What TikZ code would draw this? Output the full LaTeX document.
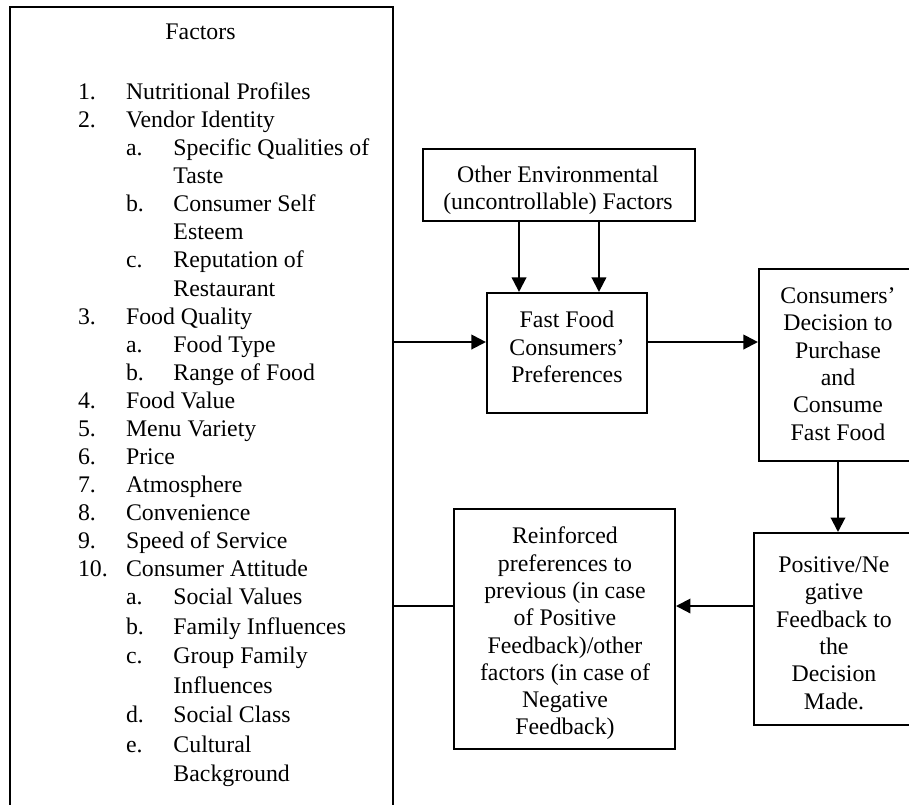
\documentclass[tikz,border=0pt]{standalone}
\usepackage{fontspec}
\setmainfont{Liberation Serif}
\usetikzlibrary{arrows.meta}
\newcommand\factoritem[2]{#1 & \multicolumn{2}{@{}l@{}}{#2}\\}
\newcommand\factorsub[2]{& #1 & #2\\}
\newcommand\factorsubwide[2]{& #1 & #2\\[0.7pt]}

\begin{document}
\begin{tikzpicture}[x=0.483pt,y=-0.483pt,line width=1pt,
  every node/.style={font=\fontsize{11.5}{13.8}\selectfont},
  box/.style={draw,inner sep=0pt},
  boxtext/.style={align=center,inner sep=0pt,font=\fontsize{11.5}{13.2}\selectfont},
  arrow/.style={-{Triangle[length=7pt,width=7pt]}}]
  \useasboundingbox (0,0) rectangle (909,805);

  % left column of factors
  \node[box,anchor=north west,minimum width=185pt,minimum height=400pt] (factors) at (9,6) {};
  \node[anchor=base] (title) at (200.5,40) {Factors};
  \node[anchor=north west,inner sep=0pt,font=\fontsize{11.5}{13.55}\selectfont] (list) at (77,79) {%
    \begin{tabular}{@{}p{23.2pt}@{}p{22.9pt}@{}l@{}}
      \factoritem{1.}{Nutritional Profiles}
      \factoritem{2.}{Vendor Identity}
      \factorsub{a.}{Specific Qualities of}
      \factorsub{}{Taste}
      \factorsub{b.}{Consumer Self}
      \factorsub{}{Esteem}
      \factorsub{c.}{Reputation of}
      \factorsub{}{Restaurant}
      \factoritem{3.}{Food Quality}
      \factorsub{a.}{Food Type}
      \factorsub{b.}{Range of Food}
      \factoritem{4.}{Food Value}
      \factoritem{5.}{Menu Variety}
      \factoritem{6.}{Price}
      \factoritem{7.}{Atmosphere}
      \factoritem{8.}{Convenience}
      \factoritem{9.}{Speed of Service}
      \factoritem{10.}{Consumer Attitude}
      \factorsubwide{a.}{Social Values}
      \factorsubwide{b.}{Family Influences}
      \factorsubwide{c.}{Group Family}
      \factorsubwide{}{Influences}
      \factorsubwide{d.}{Social Class}
      \factorsubwide{e.}{Cultural}
      \factorsubwide{}{Background}
    \end{tabular}};

  % boxes on the right
  \node[box,minimum width=131.4pt,minimum height=34.8pt] (env) at (559,185) {};
  \node[boxtext] (envtext) at (558,190) {Other Environmental\\(uncontrollable) Factors};

  \node[box,minimum width=77.3pt,minimum height=58pt] (pref) at (567,353) {};
  \node[boxtext] (preftext) at (567,347) {Fast Food\\Consumers'\\Preferences};

  \node[box,minimum width=82.6pt,minimum height=92.7pt] (decision) at (844.5,365) {};
  \node[boxtext] (dectext) at (838,364) {Consumers'\\Decision to\\Purchase\\and\\Consume\\Fast Food};

  \node[box,minimum width=85pt,minimum height=92.7pt] (feedback) at (842,629) {};
  \node[boxtext] (fbtext) at (834,633) {Positive/Ne\\gative\\Feedback to\\the\\Decision\\Made.};

  \node[box,minimum width=106.7pt,minimum height=115.9pt] (reinforced) at (564.5,629) {};
  \node[boxtext] (retext) at (565,633.5) {Reinforced\\preferences to\\previous (in case\\of Positive\\Feedback)/other\\factors (in case of\\Negative\\Feedback)};

  % connectors
  \draw[arrow] ([xshift=-19.3pt]env.south) -- ([xshift=-19.3pt]env.south |- pref.north);
  \draw[arrow] ([xshift=19.3pt]env.south) -- ([xshift=19.3pt]env.south |- pref.north);
  \draw[arrow] ([yshift=5.3pt]pref.west -| factors.east) -- ([yshift=5.3pt]pref.west);
  \draw[arrow] ([yshift=5.3pt]pref.east) -- ([yshift=5.3pt]pref.east -| decision.west);
  \draw[arrow] (decision.south -| dectext) -- (feedback.north -| dectext);
  \draw[arrow] ([yshift=11.1pt]feedback.west) -- ([yshift=11.1pt]feedback.west -| reinforced.east);
  \draw ([yshift=11.1pt]reinforced.west) -- ([yshift=11.1pt]reinforced.west -| factors.east);
\end{tikzpicture}
\end{document}
